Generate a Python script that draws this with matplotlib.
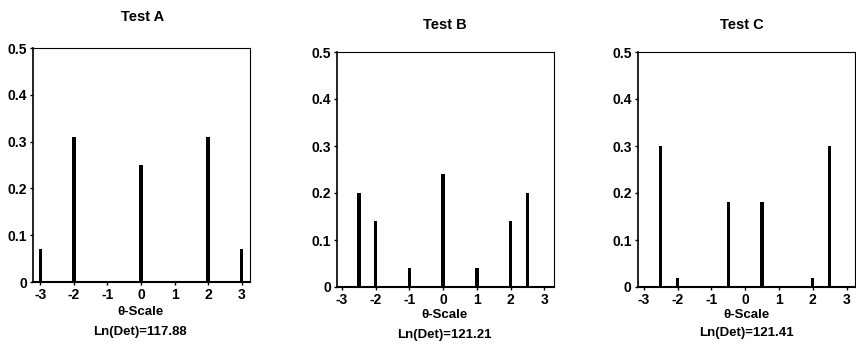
import matplotlib.pyplot as plt

plt.rcParams['font.family'] = ['Liberation Sans', 'DejaVu Sans']
plt.rcParams['font.weight'] = 'bold'

# Test A
a_x = [-3, -2, 0, 2, 3]
a_y = [0.07, 0.31, 0.25, 0.31, 0.07]
# Test B
b_x = [-2.5, -2, -1, 0, 1, 2, 2.5]
b_y = [0.20, 0.14, 0.04, 0.24, 0.04, 0.14, 0.20]
# Test C
c_x = [-2.5, -2, -0.5, 0.5, 2, 2.5]
c_y = [0.30, 0.02, 0.18, 0.18, 0.02, 0.30]

titles = ['Test A', 'Test B', 'Test C']
dets = ['Ln(Det)=117.88', 'Ln(Det)=121.21', 'Ln(Det)=121.41']
xticks = [-3, -2, -1, 0, 1, 2, 3]
yticks = [0, 0.1, 0.2, 0.3, 0.4, 0.5]
ylabels = ['0', '0.1', '0.2', '0.3', '0.4', '0.5']

W, H = 856, 348
fig = plt.figure(figsize=(W / 100, H / 100), dpi=100)

# axes boxes in pixels: left, top, right, bottom
boxes = [(33, 48, 250, 282), (337, 52, 554, 287), (638, 52, 855, 287)]
xlims = [(-3.22, 3.25), (-3.15, 3.29), (-3.17, 3.25)]
# text positions in pixels
title_pos = [(143, 17), (445, 25), (742, 25)]
xlab_pos = [(141, 312), (444, 315), (746, 315)]
det_pos = [(140, 332), (444, 335), (746, 333)]

data = [(a_x, a_y), (b_x, b_y), (c_x, c_y)]

for i, (xs, ys) in enumerate(data):
    l, t, r, b = boxes[i]
    ax = fig.add_axes([l / W, (H - b) / H, (r - l) / W, (b - t) / H])
    ax.bar(xs, ys, width=0.1, color='black')
    ax.set_xlim(*xlims[i])
    ax.set_ylim(0, 0.5)
    ax.set_xticks(xticks)
    ax.set_xticklabels([str(v) for v in xticks], fontsize=10)
    ax.set_yticks(yticks)
    ax.set_yticklabels(ylabels, fontsize=10)
    ax.tick_params(direction='out', length=2.5, width=1, pad=2)
    for s in ax.spines.values():
        s.set_linewidth(0.8)
    ax.spines['bottom'].set_linewidth(1.5)
    ax.spines['left'].set_linewidth(1.2)
    fig.text(title_pos[i][0] / W, 1 - title_pos[i][1] / H, titles[i],
             ha='center', va='center', fontsize=10.5)
    fig.text(xlab_pos[i][0] / W, 1 - xlab_pos[i][1] / H, '\u03b8-Scale',
             ha='center', va='center', fontsize=9.5)
    fig.text(det_pos[i][0] / W, 1 - det_pos[i][1] / H, dets[i],
             ha='center', va='center', fontsize=9.5)

fig.savefig('out.png', dpi=100)
